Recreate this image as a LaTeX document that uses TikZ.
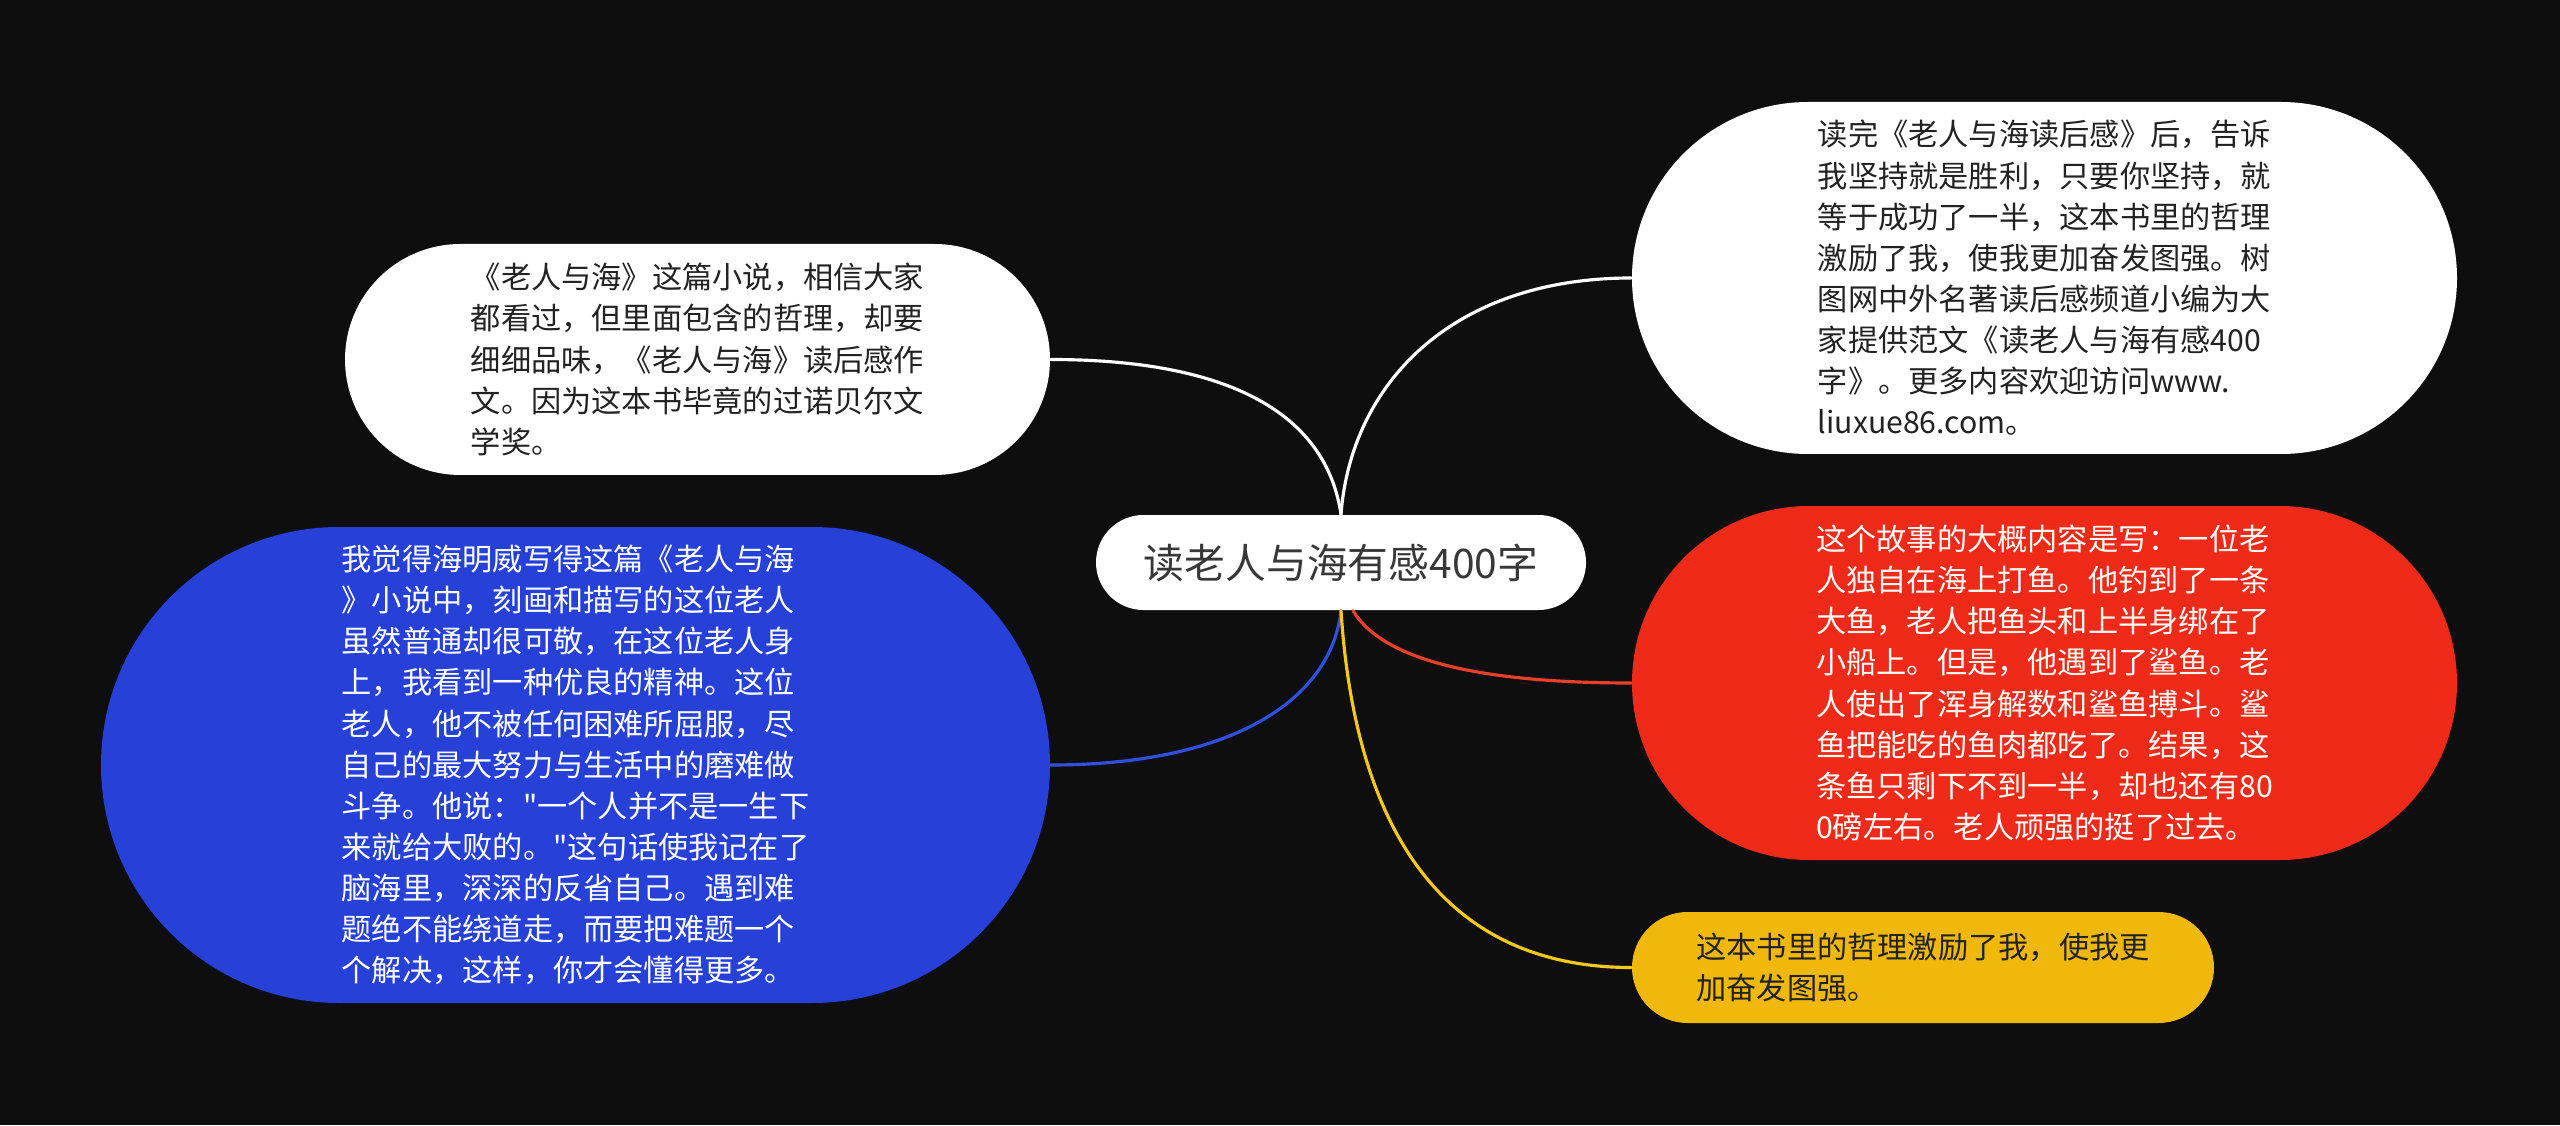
\documentclass[tikz,border=0pt]{standalone}
\usepackage{fontspec}
\newfontfamily\cjk{Noto Sans CJK SC}
\definecolor{bg}{HTML}{0E0E0E}
\definecolor{ink}{HTML}{222222}
\definecolor{bluefill}{HTML}{2640D8}
\definecolor{redfill}{HTML}{F02A18}
\definecolor{yellowfill}{HTML}{F0B80A}
\definecolor{blueline}{HTML}{3050E0}
\definecolor{redline}{HTML}{E8402A}
\definecolor{yellowline}{HTML}{F5C81A}
\begin{document}
\begin{tikzpicture}[line join=round, line cap=round,
		topic/.style={rectangle, fill=white, text=ink!90, inner sep=0pt,
			font=\cjk\fontsize{11.6}{14}\selectfont},
		leaf/.style={rectangle, align=left, inner sep=0pt,
			font=\cjk\fontsize{8.6}{11.7}\selectfont},
		link/.style={line width=0.9pt}]
				\fill[bg] (0,0) rectangle (25.6,11.25);
				\useasboundingbox (0,0) rectangle (25.6,11.25);
				\coordinate (R) at (13.41,5.625);
				\coordinate (I) at (6.975,7.655);
				\coordinate (H) at (5.755,3.60);
				\coordinate (T) at (20.445,8.47);
				\coordinate (S) at (20.445,4.42);
				\coordinate (Y) at (19.23,1.575);
				\node[topic, minimum width=4.9cm, minimum height=0.95cm, rounded corners=0.475cm] (root) at (R) {读老人与海有感400字};
				\node[leaf, fill=white, text=ink, minimum width=7.05cm, minimum height=2.31cm, rounded corners=1.155cm] (intro) at (I) {《老人与海》这篇小说，相信大家\\都看过，但里面包含的哲理，却要\\细细品味，《老人与海》读后感作\\文。因为这本书毕竟的过诺贝尔文\\学奖。};
				\node[leaf, fill=bluefill, text=white, minimum width=9.49cm, minimum height=4.76cm, rounded corners=2.38cm] (hero) at (H) {我觉得海明威写得这篇《老人与海\\》小说中，刻画和描写的这位老人\\虽然普通却很可敬，在这位老人身\\上，我看到一种优良的精神。这位\\老人，他不被任何困难所屈服，尽\\自己的最大努力与生活中的磨难做\\斗争。他说："一个人并不是一生下\\来就给大败的。"这句话使我记在了\\脑海里，深深的反省自己。遇到难\\题绝不能绕道走，而要把难题一个\\个解决，这样，你才会懂得更多。};
				\node[leaf, fill=white, text=ink, minimum width=8.25cm, minimum height=3.52cm, rounded corners=1.76cm] (thanks) at (T) {读完《老人与海读后感》后，告诉\\我坚持就是胜利，只要你坚持，就\\等于成功了一半，这本书里的哲理\\激励了我，使我更加奋发图强。树\\图网中外名著读后感频道小编为大\\家提供范文《读老人与海有感400\\字》。更多内容欢迎访问www.\\liuxue86.com。};
				\node[leaf, fill=redfill, text=white, minimum width=8.25cm, minimum height=3.54cm, rounded corners=1.77cm] (story) at (S) {这个故事的大概内容是写：一位老\\人独自在海上打鱼。他钓到了一条\\大鱼，老人把鱼头和上半身绑在了\\小船上。但是，他遇到了鲨鱼。老\\人使出了浑身解数和鲨鱼搏斗。鲨\\鱼把能吃的鱼肉都吃了。结果，这\\条鱼只剩下不到一半，却也还有80\\0磅左右。老人顽强的挺了过去。};
				\node[leaf, fill=yellowfill, text=ink, minimum width=5.82cm, minimum height=1.11cm, rounded corners=0.555cm] (moral) at (Y) {这本书里的哲理激励了我，使我更\\加奋发图强。};
				\draw[link, white] (root.north) .. controls +(-0.15,1.0) and +(1.8,0) .. (intro.east);
				\draw[link, white] (root.north) .. controls +(0.1,1.3) and +(-1.8,0) .. (thanks.west);
				\draw[link, blueline] (root.south) .. controls +(-0.1,-0.9) and +(1.8,0) .. (hero.east);
				\draw[link, redline] ([xshift=0.12cm]root.south) .. controls +(0.3,-0.5) and +(-1.5,0) .. (story.west);
				\draw[link, yellowline] (root.south) .. controls +(0.15,-2.3) and +(-1.8,0) .. (moral.west);
			\end{tikzpicture}
\end{document}
